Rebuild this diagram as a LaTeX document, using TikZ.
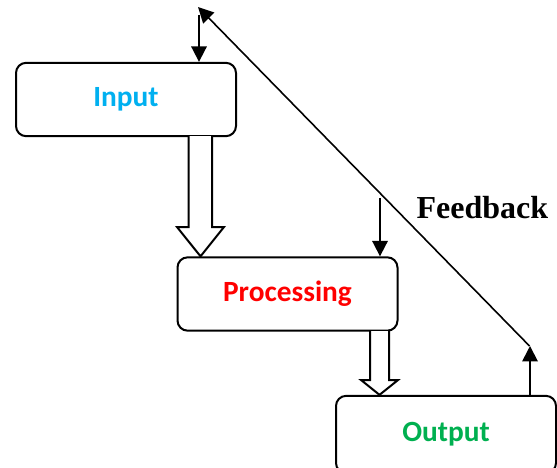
\documentclass[tikz,border=0pt]{standalone}
\usepackage{fontspec}
\setmainfont{Liberation Serif}
\newfontfamily\labelfont{Carlito}
\usetikzlibrary{arrows.meta,calc}
\definecolor{inblue}{RGB}{0,176,240}
\definecolor{procred}{RGB}{255,0,0}
\definecolor{outgreen}{RGB}{0,176,80}
\tikzset{
  stage/.style={draw=black, line width=0.75pt, rounded corners=3.8pt, fill=white,
    minimum width=82.5pt, minimum height=27.5pt, inner sep=0pt,
    font=\labelfont\fontsize{11}{13}\selectfont\bfseries},
  flowarrow/.style={line width=0.7pt, -{Triangle[length=5.8pt,width=5.8pt]}},
  blockarrow/.style={draw=black, fill=white, line width=0.75pt, line join=miter}
}
\begin{document}
\begin{tikzpicture}[x=0.375pt, y=-0.375pt]
  \useasboundingbox (0,0) rectangle (557,467);

  % the three stages
  \node[stage, text=inblue]   (in)   at (126,99.5)  {Input};
  \node[stage, text=procred]  (proc) at (287.5,294) {Processing};
  \node[stage, text=outgreen, minimum height=29pt] (out) at (446,434.5) {\raisebox{1.3pt}{Output}};

  % hollow arrows between the stages
  \coordinate (a1) at (200.5,136);
  \draw[blockarrow] ($(a1)+(-12,0)$) -- ++(0,91) -- ++(-11.5,0)
     -- (a1 |- proc.north) -- ($(a1)+(23.5,91)$) -- ++(-12,0) -- ($(a1)+(11.5,0)$);
  \coordinate (a2) at (379.5,331);
  \draw[blockarrow] ($(a2)+(-9.5,0)$) -- ++(0,49) -- ++(-9,0)
     -- (a2 |- out.north) -- ($(a2)+(18.5,49)$) -- ++(-9,0) -- ($(a2)+(9.5,0)$);

  % incoming arrows
  \coordinate (inTop) at (199,15);
  \draw[flowarrow] (inTop) -- (inTop |- in.north);
  \coordinate (procTop) at (380,198);
  \draw[flowarrow] (procTop) -- (procTop |- proc.north);

  % feedback loop
  \coordinate (fbStart) at ($(out.north)+(84,0)$);
  \coordinate (fbCorner) at (529.5,346);
  \coordinate (fbEnd) at (198,7);
  \draw[flowarrow] (fbStart) -- (fbStart |- fbCorner);
  \draw[flowarrow, line width=0.6pt] (fbCorner) -- (fbEnd);

  \node[anchor=base west, inner sep=0pt, font=\fontsize{12}{14}\selectfont\bfseries]
    (fb) at (416,218) {Feedback};
\end{tikzpicture}
\end{document}
